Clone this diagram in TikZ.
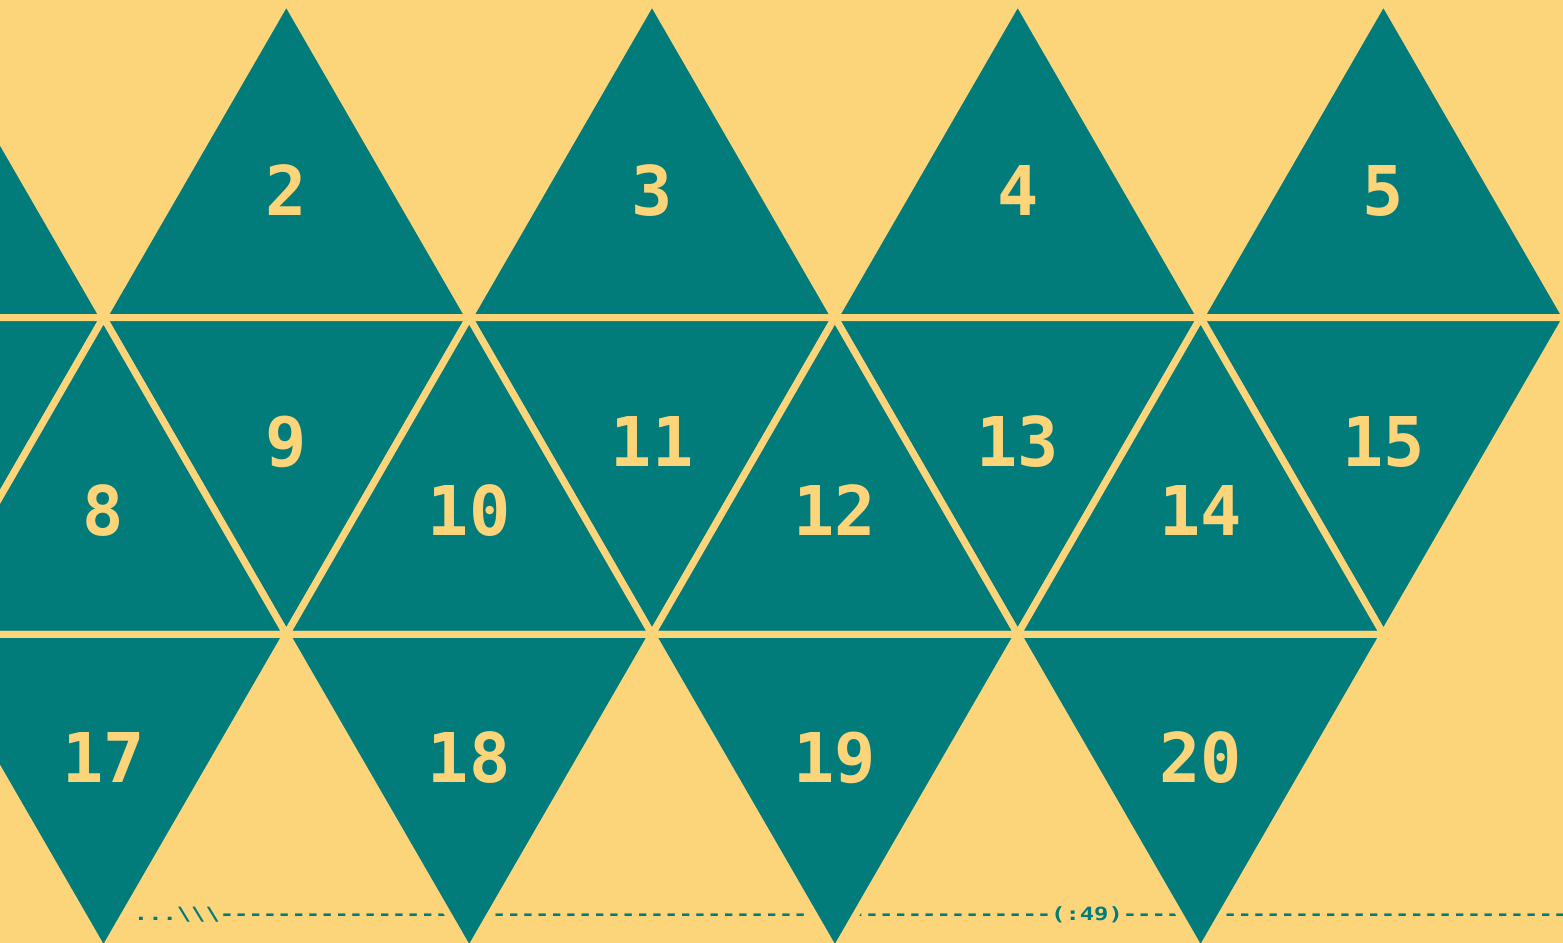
\documentclass[tikz,border=0pt]{standalone}
\usepackage{fontspec}
\setmonofont{DejaVu Sans Mono}
\usetikzlibrary{calc}
\definecolor{netteal}{HTML}{027B7B}
\definecolor{netsand}{HTML}{FCD47A}
\newcommand{\halfw}{182.85}
\tikzset{
  face/.style={fill=netteal, draw=netsand, line width=0.07cm, line join=miter},
  num/.style={anchor=base, inner sep=0pt, text=netsand,
    font=\ttfamily\bfseries\fontsize{19.5}{20}\selectfont},
  ruler/.style={anchor=base west, inner sep=0pt, text=netteal, xscale=1.302,
    font=\ttfamily\bfseries\fontsize{5.2}{6}\selectfont}
}

\begin{document}
\begin{tikzpicture}[x=0.01cm, y=-0.01cm]
  % Fond
  \fill[netsand] (0,0) rectangle (1563,943);
  \useasboundingbox (0,0) rectangle (1563,943);
  \clip (0,0) rectangle (1563,943);
  % Ligne de texte en bas (sous les faces)
  \node[ruler] (ruler) at (133,920)
    {...\textbackslash\textbackslash\textbackslash----------------------------------------------------------(:49)----------------------------------};
  % Rangee du haut (pointe en haut)
  \foreach \xa in {-79.4, 286.3, 652.0, 1017.7, 1383.4}
    \draw[face] ({\xa-\halfw},317.7) -- ({\xa+\halfw},317.7) -- (\xa,1.1) -- cycle;
  % Rangee du milieu (pointe en bas)
  \foreach \xa in {-79.4, 286.3, 652.0, 1017.7, 1383.4}
    \draw[face] ({\xa-\halfw},317.7) -- ({\xa+\halfw},317.7) -- (\xa,634.3) -- cycle;
  % Rangee du milieu (pointe en haut)
  \foreach \xb in {103.5, 469.2, 834.9, 1200.6}
    \draw[face] ({\xb-\halfw},634.3) -- ({\xb+\halfw},634.3) -- (\xb,317.7) -- cycle;
  % Rangee du bas (pointe en bas)
  \foreach \xb in {103.5, 469.2, 834.9, 1200.6}
    \draw[face] ({\xb-\halfw},634.3) -- ({\xb+\halfw},634.3) -- (\xb,951) -- cycle;
  % Numeros
  \foreach \n/\x in {2/286.3, 3/652.0, 4/1017.7, 5/1383.4}
    \node[num] (lab\n) at (\x,216) {\n};
  \foreach \n/\x in {9/286.3, 11/652.0, 13/1017.7, 15/1383.4}
    \node[num] (lab\n) at (\x,467) {\n};
  \foreach \n/\x in {8/103.5, 10/469.2, 12/834.9, 14/1200.6}
    \node[num] (lab\n) at (\x,536) {\n};
  \foreach \n/\x in {17/103.5, 18/469.2, 19/834.9, 20/1200.6}
    \node[num] (lab\n) at (\x,782) {\n};
\end{tikzpicture}
\end{document}
